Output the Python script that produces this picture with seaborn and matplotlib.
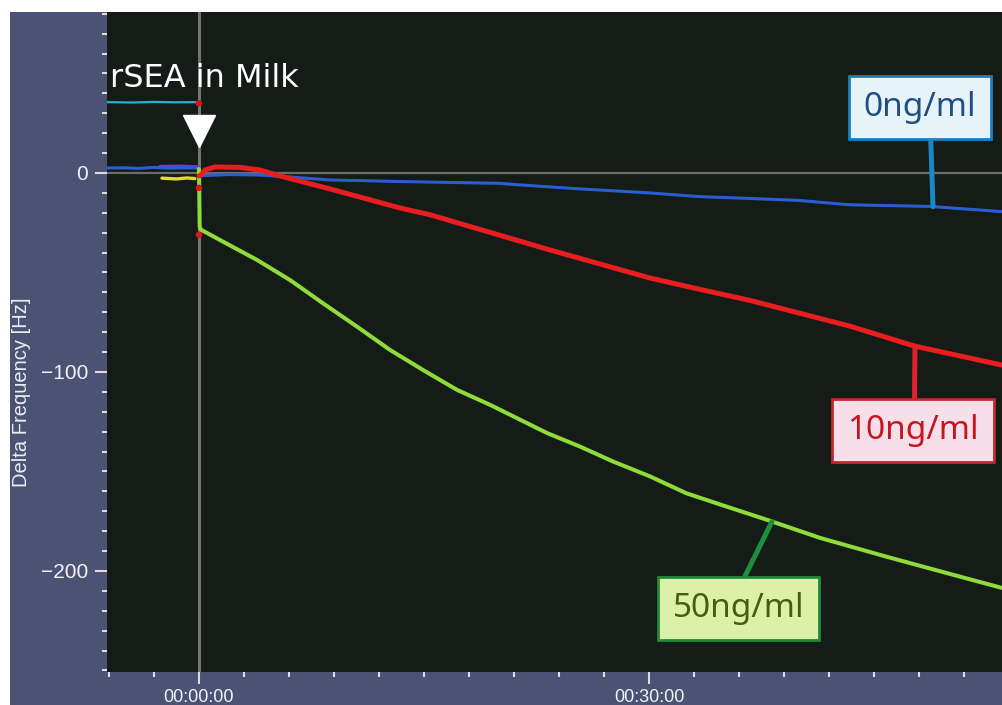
import numpy as np
import pandas as pd
import matplotlib
matplotlib.use("Agg")
import matplotlib.pyplot as plt
import seaborn as sns
from matplotlib.ticker import MultipleLocator, FuncFormatter
from matplotlib.patches import Rectangle

# ---- measurement data (time in minutes from injection, delta frequency in Hz) ----
t_blank = [-6.13, -5.0, -4.0, -3.0, -2.0, -1.0, -0.05, 0.1, 0.4, 2.0, 4.0, 6.0, 8.7,
           13.4, 17.0, 20.0, 21.4, 25.4, 30.0, 33.4, 36.7, 40.0, 43.4, 48.7, 53.5]
v_blank = [2.5, 2.6, 2.3, 2.8, 2.4, 2.6, 2.5, -1.5, -1.3, -0.8, -1.0, -2.0, -3.5,
           -4.3, -4.8, -5.2, -6.0, -8.0, -10.0, -11.9, -12.8, -13.8, -16.0, -16.8, -19.4]

t_10 = [0.0, 0.13, 0.4, 1.07, 2.73, 4.07, 5.4, 8.73, 13.4, 15.4, 23.4, 30.07,
        33.4, 36.7, 43.4, 47.7, 53.5]
v_10 = [-1.5, -1.0, 1.5, 3.0, 2.8, 1.5, -1.5, -8.0, -17.6, -21.0, -38.7, -52.8,
        -58.5, -64.0, -77.0, -87.0, -96.5]

t_50 = [0.0, 0.05, 0.13, 1.6, 3.87, 6.07, 8.27, 10.53, 12.73, 14.93, 17.2, 19.4,
        23.2, 25.4, 27.6, 30.07, 32.5, 34.7, 37.9, 41.4, 45.9, 50.3, 53.5]
v_50 = [2.0, -27.0, -28.5, -34.5, -43.7, -53.8, -65.5, -77.2, -88.9, -99.0, -109.0,
        -116.5, -130.7, -137.5, -145.0, -152.5, -161.0, -166.5, -174.4, -183.4,
        -193.0, -202.0, -208.5]

# auxiliary channels recorded before the injection
t_aux1 = [-6.13, -4.5, -3.0, -1.5, -0.2]
v_aux1 = [35.6, 35.4, 35.7, 35.5, 35.6]
t_aux2 = [-2.47, -1.5, -0.8, -0.27]
v_aux2 = [-2.6, -3.0, -2.5, -2.8]
t_aux3 = [-2.6, -1.3, 0.0]
v_aux3 = [3.3, 3.5, 3.1]
t_marks = [0.0, 0.0, 0.0]
v_marks = [35.0, -7.5, -31.0]

series_labels = ["0ng/ml", "10ng/ml", "50ng/ml"]
event_label = "rSEA in Milk"
y_label = "Delta Frequency [Hz]"

# ---- figure ----
sns.set_theme(style="dark")
plt.rcParams["font.family"] = ["Liberation Sans", "DejaVu Sans"]

W, H = 1002, 705
fig = plt.figure(figsize=(W / 100, H / 100), dpi=100)
fig.patch.set_facecolor("white")
fig.add_artist(Rectangle((10 / W, 0), 1, (H - 12) / H, transform=fig.transFigure,
                         facecolor="#4b5273", edgecolor="none", zorder=-1))

ax = fig.add_axes([107 / W, 33 / H, (W - 107) / W, 660 / H])
ax.set_facecolor("#151b17")
for s in ax.spines.values():
    s.set_visible(False)

ax.set_xlim(-6.13, 53.53)
ax.set_ylim(-250.8, 80.9)

# reference lines
ax.axhline(0, color="#6c6c6c", lw=1.6, zorder=1)
ax.axvline(0, color="#747474", lw=2.2, zorder=1)

# traces
sns.lineplot(x=t_aux1, y=v_aux1, ax=ax, color="#22b4cc", lw=1.6, sort=False, estimator=None)
sns.lineplot(x=t_aux3, y=v_aux3, ax=ax, color="#6a3cc8", lw=2.2, sort=False, estimator=None)
sns.lineplot(x=t_aux2, y=v_aux2, ax=ax, color="#e2e01e", lw=2.4, sort=False, estimator=None)
sns.lineplot(x=t_blank, y=v_blank, ax=ax, color="#2a5fd4", lw=2.2, sort=False, estimator=None)
sns.lineplot(x=t_50, y=v_50, ax=ax, color="#8edb3a", lw=2.9, sort=False, estimator=None)
sns.lineplot(x=t_10, y=v_10, ax=ax, color="#e81e1e", lw=3.6, sort=False, estimator=None)
sns.scatterplot(x=t_marks, y=v_marks, ax=ax, color="#d8161a", s=22, edgecolor="none", zorder=5)

# injection marker and caption
ax.plot([0], [21], marker="v", markersize=23, color="white", mec="white", zorder=6)
ax.text(-5.93, 43.2, event_label, color="white", fontsize=23, family="DejaVu Sans",
        ha="left", va="baseline", zorder=6)

# concentration labels with pointers
def callout(label, t, v, t_tip, box_xy, rel, fc, ec, tc, lc):
    tip = (t_tip, float(np.interp(t_tip, t, v)))
    ax.annotate(label, xy=tip, xytext=box_xy, textcoords="data",
                ha="center", va="center", fontsize=24, color=tc, family="Noto Sans",
                fontweight="medium",
                bbox=dict(boxstyle="square,pad=0.45", fc=fc, ec=ec, lw=2),
                arrowprops=dict(arrowstyle="-", color=lc, lw=3.6, relpos=rel,
                                shrinkA=0, shrinkB=0),
                zorder=7)

callout(series_labels[0], t_blank, v_blank, 48.93, (48.07, 32.9), (0.59, 0.0),
        "#e6f3f9", "#1c7fc0", "#1f4f82", "#1a88c8")
callout(series_labels[1], t_10, v_10, 47.73, (47.6, -129.6), (0.51, 1.0),
        "#f6dfe9", "#c0282e", "#c8141e", "#e0202a")
callout(series_labels[2], t_50, v_50, 38.2, (35.97, -218.8), (0.49, 1.0),
        "#dcf0a8", "#1f8a3a", "#4a5a14", "#1a9040")

# axes ticks
def hms(val, pos):
    secs = int(round(val * 60))
    sign = "-" if secs < 0 else ""
    secs = abs(secs)
    return f"{sign}{secs // 3600:02d}:{(secs % 3600) // 60:02d}:{secs % 60:02d}"

ax.xaxis.set_major_locator(MultipleLocator(30))
ax.xaxis.set_minor_locator(MultipleLocator(3))
ax.xaxis.set_major_formatter(FuncFormatter(hms))
ax.yaxis.set_major_locator(MultipleLocator(100))
ax.yaxis.set_minor_locator(MultipleLocator(10))

ax.tick_params(which="both", bottom=True, left=True, direction="out",
               colors="#dcdce4", width=1.5)
ax.tick_params(which="major", length=8.6, pad=5)
ax.tick_params(which="minor", length=3.6)
ax.tick_params(axis="y", labelsize=15, labelcolor="#f2f2f8")
ax.tick_params(axis="x", labelsize=13, labelcolor="#f2f2f8", pad=4)
ax.set_xlabel("")
ax.set_ylabel("")
ax.grid(False)

fig.text(22 / W, 1 - 392 / H, y_label, rotation=90, ha="center", va="center",
         fontsize=14.5, color="#ececf2")

fig.savefig("out.png", dpi=100)
